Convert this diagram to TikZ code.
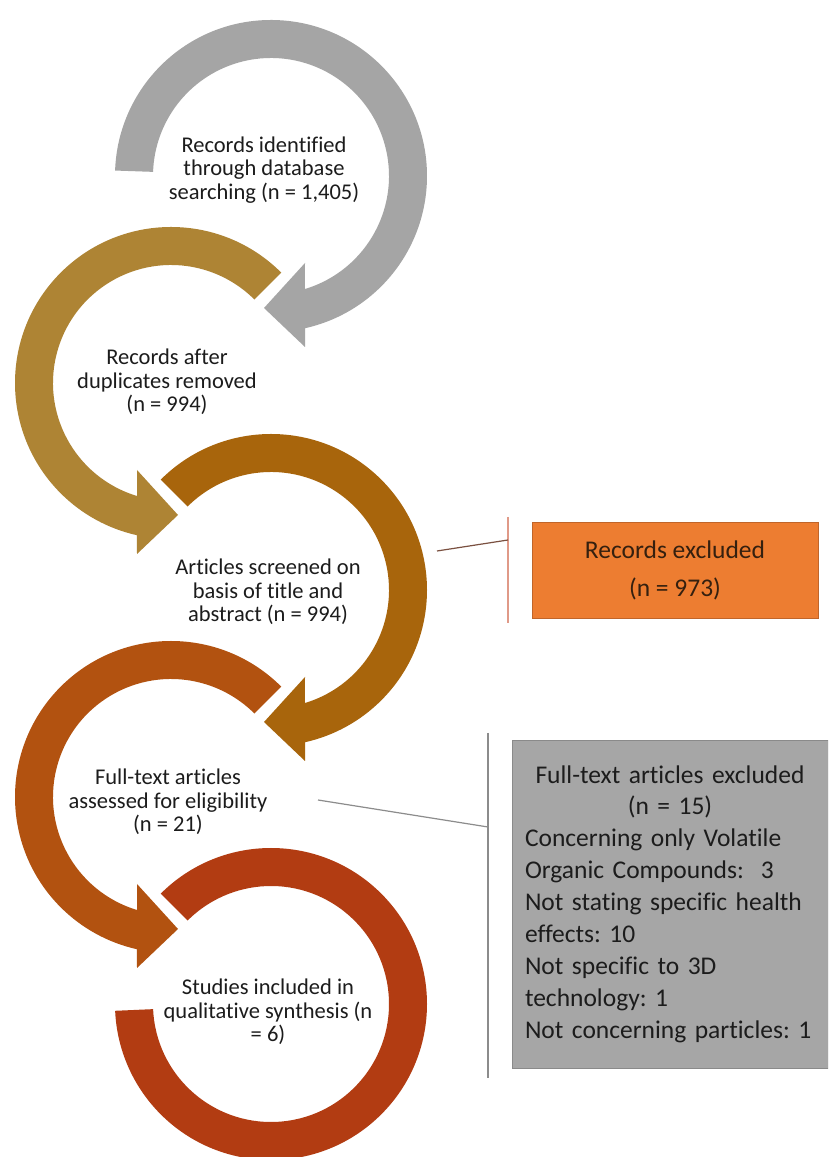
\documentclass[tikz,border=0pt]{standalone}
\usepackage{fontspec}
\setmainfont[Ligatures=NoCommon]{Carlito}
\definecolor{ringA}{HTML}{A5A5A5}
\definecolor{ringB}{HTML}{AE8434}
\definecolor{ringC}{HTML}{A8650C}
\definecolor{ringD}{HTML}{B25210}
\definecolor{ringE}{HTML}{B23C12}
\definecolor{txt}{HTML}{1C1C1C}
\definecolor{orfill}{HTML}{ED7D31}
\definecolor{ordraw}{HTML}{C0652A}
\definecolor{ortxt}{HTML}{35200F}
\definecolor{gyfill}{HTML}{A6A6A6}
\definecolor{gydraw}{HTML}{8A8A8A}
\definecolor{orline}{HTML}{E09A88}
\definecolor{orlink}{HTML}{7A5040}
\definecolor{gyline}{HTML}{8C8C8C}
% clockwise ring ending in an arrowhead that points left at the bottom
\newcommand\ringcw[3]{%
  \fill[#3, shift={(#1)}] (#2:156) arc[start angle=#2, end angle=-77.4, radius=156]
    -- (34,-171) -- (-7,-132) -- (34,-87) -- (-73.3:118)
    arc[start angle=-73.3, end angle=#2, radius=118] -- cycle;}
% counter-clockwise ring ending in an arrowhead that points right at the bottom
\newcommand\ringccw[3]{%
  \fill[#3, shift={(#1)}] (#2:156) arc[start angle=#2, end angle=257.4, radius=156]
    -- (-34,-171) -- (7,-132) -- (-34,-87) -- (253.3:118)
    arc[start angle=253.3, end angle=#2, radius=118] -- cycle;}
\frenchspacing
\begin{document}
\begin{tikzpicture}[x=1pt,y=1pt,
  ringtext/.style={align=center, text=txt, font=\fontsize{22.5}{23.5}\selectfont},
  boxtext/.style={font=\fontsize{25.5}{31.9}\selectfont},
  link/.style={line width=1.2pt}]
\useasboundingbox (0,0) rectangle (828,1157);
\clip (0,0) rectangle (828,1157);
\fill[white] (0,0) rectangle (828,1157);

% ring centres
\coordinate (c1) at (271,981);
\coordinate (c2) at (171,774);
\coordinate (c3) at (271,567);
\coordinate (c4) at (171,360);
\coordinate (c5) at (271,153);

% circular arrows
\ringcw{c1}{178}{ringA}
\ringccw{c2}{45}{ringB}
\ringcw{c3}{135}{ringC}
\ringccw{c4}{45}{ringD}
\fill[ringE, shift={(c5)}] (135:156) arc[start angle=135, end angle=-177.5, radius=156]
  -- (-177.5:118) arc[start angle=-177.5, end angle=135, radius=118] -- cycle;

% stage labels
\node[ringtext] (s1) at (264,987) {Records identified\\through database\\searching (n = 1,405)};
\node[ringtext] (s2) at (167,775) {Records after\\duplicates removed\\(n = 994)};
\node[ringtext] (s3) at (268,565) {Articles screened on\\basis of title and\\abstract (n = 994)};
\node[ringtext] (s4) at (168,355) {Full-text articles\\assessed for eligibility\\(n = 21)};
\node[ringtext] (s5) at (268,145) {Studies included in\\qualitative synthesis (n\\= 6)};

% records excluded
\node[draw=ordraw, fill=orfill, line width=0.8pt, minimum width=286pt, minimum height=96pt,
      align=center, text=ortxt, font=\fontsize{25.5}{38}\selectfont] (ex1) at (675,587)
      {Records excluded\\(n = 973)};
\coordinate (b1top) at (508,640);
\coordinate (b1bot) at (508,534);
\coordinate (b1mid) at (508,617);
\coordinate (l1) at (437,606);
\draw[link, orline] (b1top) -- (b1bot);
\draw[link, orlink] (l1) -- (b1mid);

% full-text articles excluded
\node[draw=gydraw, fill=gyfill, line width=0.8pt, minimum width=316pt, minimum height=328pt,
      text width=290pt, align=left, text=txt, boxtext] (ex2) at (670,253)
      {\makebox[290pt][c]{Full-text articles excluded}\\
       \makebox[290pt][c]{(n = 15)}\\
       Concerning only Volatile\\
       Organic Compounds:\ \ 3\\
       Not stating specific health\\
       effects: 10\\
       Not specific to 3D\\
       technology: 1\\
       Not concerning particles: 1};
\coordinate (b2top) at (488,424);
\coordinate (b2bot) at (488,79);
\coordinate (b2mid) at (488,330);
\coordinate (l2) at (318,357);
\draw[link, gyline] (b2top) -- (b2bot);
\draw[link, gyline] (l2) -- (b2mid);
\end{tikzpicture}
\end{document}
